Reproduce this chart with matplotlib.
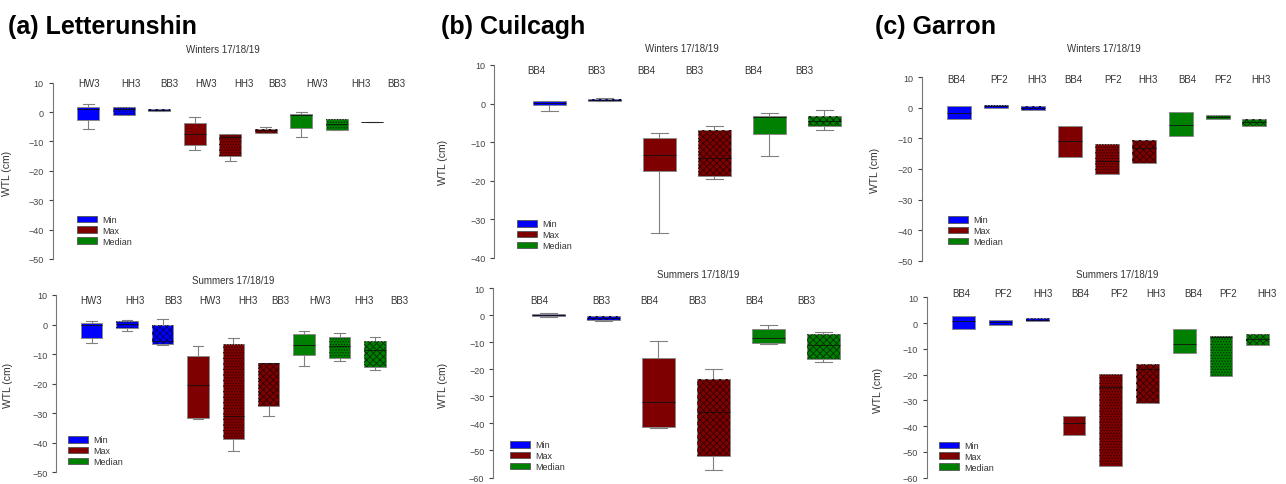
import matplotlib
matplotlib.use('Agg')
from matplotlib import pyplot as plt
from matplotlib.patches import Patch, PathPatch

plt.rcParams['font.family'] = ['Liberation Sans', 'DejaVu Sans']
plt.rcParams['hatch.linewidth'] = 0.6

# ---- data (WTL, cm) ----
# (a) Letterunshin
a_sites = ['HW3', 'HH3', 'BB3', 'HW3', 'HH3', 'BB3', 'HW3', 'HH3', 'BB3']
a_win_hi = [2.6, 1.8, 0.9, -1.8, -7.6, -5.2, 0.0, -2.3, -3.4]
a_win_q3 = [1.8, 1.8, 0.9, -3.8, -7.6, -5.6, -0.8, -2.3, -3.4]
a_win_med = [1.2, 1.0, 0.7, -7.5, -8.6, -6.2, -1.0, -4.0, -3.4]
a_win_q1 = [-2.6, -0.9, 0.45, -11.3, -15.0, -7.1, -5.5, -6.2, -3.4]
a_win_lo = [-5.9, -0.9, 0.45, -13.0, -16.6, -7.1, -8.5, -6.2, -3.4]
a_sum_hi = [1.1, 1.7, 1.8, -7.1, -4.5, -13.1, -2.3, -2.7, -4.1]
a_sum_q3 = [0.45, 1.2, 0.0, -10.8, -6.5, -13.1, -3.2, -4.2, -5.6]
a_sum_med = [0.0, 0.1, -5.5, -20.5, -30.9, -13.1, -7.0, -7.4, -8.5]
a_sum_q1 = [-4.6, -1.1, -6.5, -31.6, -38.6, -27.5, -10.4, -11.2, -14.2]
a_sum_lo = [-6.3, -2.3, -7.0, -32.0, -42.7, -30.9, -14.0, -12.5, -15.4]

# (b) Cuilcagh
b_sites = ['BB4', 'BB3', 'BB4', 'BB3', 'BB4', 'BB3']
b_win_hi = [0.8, 1.55, -7.5, -5.7, -2.4, -1.6]
b_win_q3 = [0.6, 1.2, -9.0, -6.8, -3.2, -3.2]
b_win_med = [0.2, 0.95, -13.3, -14.2, -3.4, -4.4]
b_win_q1 = [-0.3, 0.7, -17.5, -18.8, -7.9, -5.9]
b_win_lo = [-2.0, 0.7, -33.4, -19.5, -13.7, -6.9]
b_sum_hi = [0.8, -0.1, -9.5, -19.8, -3.5, -6.0]
b_sum_q3 = [0.6, -0.1, -15.7, -23.7, -5.2, -6.8]
b_sum_med = [0.1, -1.0, -31.9, -35.9, -8.5, -10.8]
b_sum_q1 = [-0.4, -1.8, -41.2, -52.1, -10.3, -16.2]
b_sum_lo = [-0.6, -2.1, -41.7, -57.2, -10.7, -17.4]

# (c) Garron (no whiskers)
c_sites = ['BB4', 'PF2', 'HH3', 'BB4', 'PF2', 'HH3', 'BB4', 'PF2', 'HH3']
c_win_q3 = [0.65, 0.9, 0.65, -5.9, -11.7, -10.5, -1.5, -2.4, -3.7]
c_win_med = [-1.6, 0.5, 0.0, -10.9, -17.4, -13.0, -5.5, -3.0, -4.6]
c_win_q1 = [-3.7, 0.1, -0.8, -16.1, -21.7, -18.1, -9.2, -3.7, -5.9]
c_sum_q3 = [2.8, 1.3, 2.0, -36.0, -19.8, -15.9, -2.3, -5.2, -4.2]
c_sum_med = [0.9, 0.4, 1.3, -38.8, -24.7, -17.8, -8.0, -5.6, -6.2]
c_sum_q1 = [-2.5, -0.6, 0.8, -43.6, -55.5, -30.9, -11.8, -20.6, -8.4]

# label x positions (in box units) and y level, as placed in the original
a_win_lab_x = [1.03, 2.19, 3.28, 4.33, 5.39, 6.32, 7.45, 8.67, 9.68]
a_sum_lab_x = [0.97, 2.22, 3.30, 4.34, 5.40, 6.34, 7.46, 8.69, 9.70]
b_win_lab_x = [0.77, 1.86, 2.76, 3.64, 4.71, 5.63]
b_sum_lab_x = [0.83, 1.96, 2.84, 3.71, 4.74, 5.70]
c_win_lab_x = [0.94, 2.09, 3.11, 4.09, 5.18, 6.13, 7.19, 8.14, 9.17]
c_sum_lab_x = [0.93, 2.07, 3.16, 4.16, 5.23, 6.23, 7.24, 8.19, 9.24]

legend_labels = ['Min', 'Max', 'Median']
fills = ['#0000ff', '#7f0000', '#008000']
darks = ['#000060', '#300000', '#003000']

W, H = 1286, 485
fig = plt.figure(figsize=(W / 100, H / 100), dpi=100)


def add_ax(left, top, right, bottom):
    return fig.add_axes([left / W, 1 - bottom / H, (right - left) / W, (bottom - top) / H])


def panel(ax, lo, q1, med, q3, hi, sites, lab_x, lab_y, hatches, ylim, xmax,
          width, caps, title, tpos, lpos, ylab_pos, geom):
    n = len(q1)
    per = n // 3
    stats = []
    for i in range(n):
        stats.append(dict(whislo=lo[i], q1=q1[i], med=med[i], q3=q3[i], whishi=hi[i]))
    bp = ax.bxp(stats, positions=range(1, n + 1), widths=width, patch_artist=True,
                showfliers=False, showcaps=caps, capwidths=width * 0.5,
                whiskerprops=dict(color='#808080', lw=0.8),
                capprops=dict(color='#808080', lw=0.8),
                medianprops=dict(color='#111111', lw=0.6),
                boxprops=dict(lw=0.7, edgecolor='#8a8a8a'))
    for i, box in enumerate(bp['boxes']):
        g = i // per
        h = hatches[i % per]
        box.set_facecolor(fills[g])
        box.set_edgecolor('#8a8a8a')
        if h:
            # hatch overlay in a darker shade of the fill
            ax.add_patch(PathPatch(box.get_path(), fill=False, hatch=h,
                                   edgecolor=darks[g], lw=0, zorder=box.get_zorder() + 0.1))
    for x, s in zip(lab_x, sites):
        ax.text(x, lab_y, s, ha='center', va='center', fontsize=7, color='#333333')
    ax.set_xlim(0, xmax)
    ax.set_ylim(*ylim)
    ax.set_yticks(range(int(ylim[0]), 11, 10))
    ax.set_xticks([])
    for s in ['top', 'right', 'bottom']:
        ax.spines[s].set_visible(False)
    ax.spines['left'].set_color('#777777')
    ax.spines['left'].set_linewidth(0.8)
    ax.tick_params(axis='y', labelsize=6.5, colors='#444444', length=3, width=0.8)
    left, top, right, bottom = geom
    ax.set_ylabel('WTL (cm)', fontsize=7.5, color='#333333')
    ax.yaxis.set_label_coords((ylab_pos[0] - left) / (right - left),
                              (bottom - ylab_pos[1]) / (bottom - top))
    fig.text(tpos[0] / W, 1 - tpos[1] / H, title, ha='center', va='center',
             fontsize=7, color='#333333')
    handles = [Patch(facecolor=c, edgecolor='#555555', lw=0.6) for c in fills]
    ax.legend(handles, legend_labels, loc='upper left',
              bbox_to_anchor=(lpos[0] / W, 1 - lpos[1] / H), bbox_transform=fig.transFigure,
              frameon=False, fontsize=6.5, handlelength=2.2, handleheight=0.7,
              labelspacing=0.2, borderpad=0, borderaxespad=0, handletextpad=0.6,
              labelcolor='#333333')


fine = '......'
cross = 'xxxxx'

# (a) Letterunshin
g = (52.8, 83.7, 407.8, 260)
ax = add_ax(*g)
panel(ax, a_win_lo, a_win_q1, a_win_med, a_win_q3, a_win_hi, a_sites, a_win_lab_x, 10,
      ['', fine, cross], (-50, 10), 10, 0.61, True, 'Winters 17/18/19', (222.8, 50),
      (77, 216), (12, 173), g)
g = (56.3, 296, 410.3, 473.3)
ax = add_ax(*g)
panel(ax, a_sum_lo, a_sum_q1, a_sum_med, a_sum_q3, a_sum_hi, a_sites, a_sum_lab_x, 8.3,
      ['', fine, cross], (-50, 10), 10, 0.61, True, 'Summers 17/18/19', (232.8, 280.7),
      (68, 436.5), (13, 385), g)

# (b) Cuilcagh
g = (494.3, 66, 851.8, 259)
ax = add_ax(*g)
panel(ax, b_win_lo, b_win_q1, b_win_med, b_win_q3, b_win_hi, b_sites, b_win_lab_x, 8.6,
      ['', cross], (-40, 10), 6.5, 0.6, True, 'Winters 17/18/19', (681.7, 49),
      (517, 220.5), (448, 162), g)
g = (493.3, 289.3, 850.8, 478.5)
ax = add_ax(*g)
panel(ax, b_sum_lo, b_sum_q1, b_sum_med, b_sum_q3, b_sum_hi, b_sites, b_sum_lab_x, 5.7,
      ['', cross], (-60, 10), 6.5, 0.6, True, 'Summers 17/18/19', (698.3, 275),
      (510, 441.5), (448, 385), g)

# (c) Garron
g = (922, 78.3, 1284, 261.7)
ax = add_ax(*g)
panel(ax, c_win_q1, c_win_q1, c_win_med, c_win_q3, c_win_q3, c_sites, c_win_lab_x, 9.4,
      ['', fine, cross], (-50, 10), 9.8, 0.65, False, 'Winters 17/18/19', (1104.3, 49.3),
      (948, 216.5), (880, 170), g)
g = (927, 298.3, 1283.5, 478.5)
ax = add_ax(*g)
panel(ax, c_sum_q1, c_sum_q1, c_sum_med, c_sum_q3, c_sum_q3, c_sites, c_sum_lab_x, 11.7,
      ['', fine, cross], (-60, 10), 9.7, 0.62, False, 'Summers 17/18/19', (1117.3, 275),
      (939, 442), (883, 390), g)

# site headings
for x, t in [(8, '(a) Letterunshin'), (441, '(b) Cuilcagh'), (875, '(c) Garron')]:
    fig.text(x / W, 1 - 34 / H, t, ha='left', va='baseline', fontsize=18,
             fontweight='bold', color='black')

fig.savefig('out.png', dpi=100)
